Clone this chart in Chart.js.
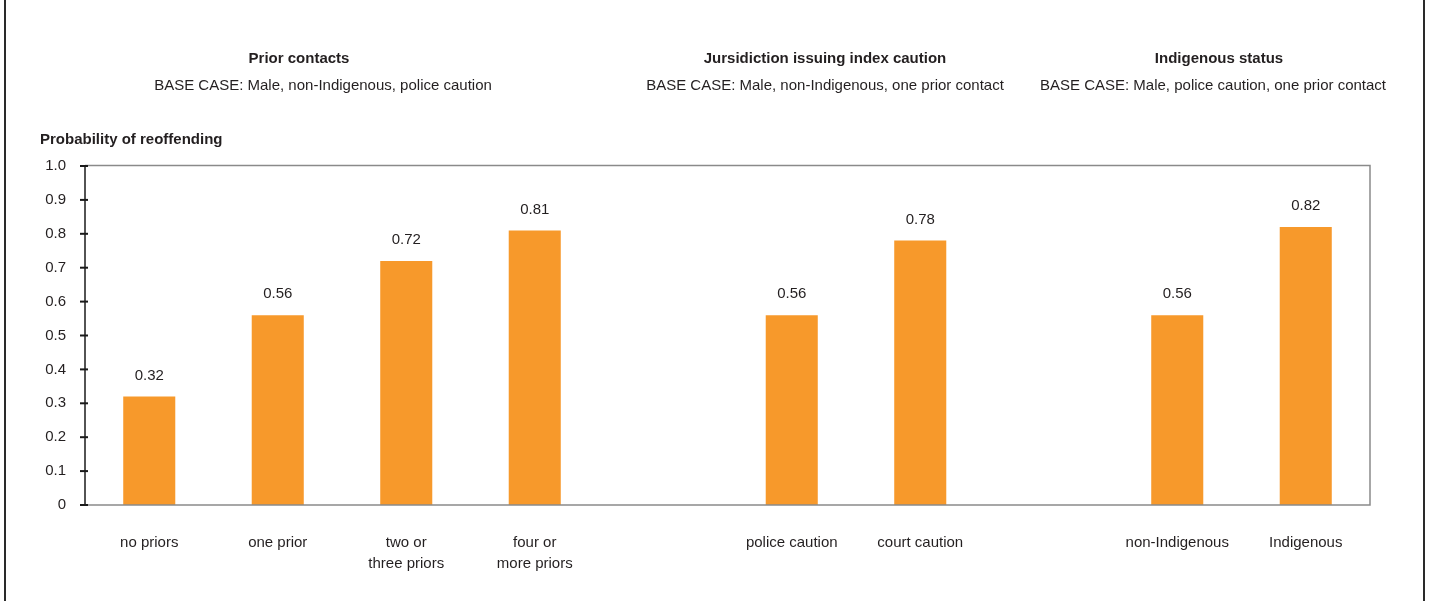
<!DOCTYPE html>
<html>
<head>
<meta charset="utf-8">
<script src="https://cdn.jsdelivr.net/npm/chart.js@4/dist/chart.umd.min.js"></script>
<style>
  html, body { margin: 0; padding: 0; background: #fff; }
  #wrap { position: relative; width: 1429px; height: 601px; font-family: "Liberation Sans", Arial, sans-serif; color: #231f20; }
  .t { position: absolute; font-size: 15px; white-space: nowrap; transform: translate(-50%, -50%); }
  .b { font-weight: bold; }
  #edgeL, #edgeR { position: absolute; top: 0; width: 2px; height: 601px; background: #2a2a2a; }
</style>
</head>
<body>
<div id="wrap">
  <canvas id="myChart" width="1429" height="601"></canvas>
  <div id="edgeL" style="left:4px"></div>
  <div id="edgeR" style="left:1423px"></div>
  <div class="t b" style="left:299px; top:57px">Prior contacts</div>
  <div class="t" style="left:323px; top:84px">BASE CASE: Male, non-Indigenous, police caution</div>
  <div class="t b" style="left:825px; top:57px">Jursidiction issuing index caution</div>
  <div class="t" style="left:825px; top:84px">BASE CASE: Male, non-Indigenous, one prior contact</div>
  <div class="t b" style="left:1219px; top:57px">Indigenous status</div>
  <div class="t" style="left:1213px; top:84px">BASE CASE: Male, police caution, one prior contact</div>
  <div class="t b" style="left:40px; top:138px; transform: translate(0, -50%)">Probability of reoffending</div>
</div>
<script>
const categories = ["no priors", "one prior", ["two or", "three priors"], ["four or", "more priors"], "",
  "police caution", "court caution", "", "non-Indigenous", "Indigenous"];
const probability = [0.32, 0.56, 0.72, 0.81, null, 0.56, 0.78, null, 0.56, 0.82];
const y_ticks = [0, 0.1, 0.2, 0.3, 0.4, 0.5, 0.6, 0.7, 0.8, 0.9, 1.0];

const text_color = "#231f20";
const bar_color = "#f7992b";

const frame_plugin = {
  id: "frame",
  afterDraw: (chart) => {
    const c = chart.ctx;
    const a = chart.chartArea;
    const y = chart.scales.y;
    c.save();
    c.strokeStyle = "#8a8a8a";
    c.lineWidth = 1.5;
    c.beginPath();
    c.moveTo(a.left, a.top - 0.5);
    c.lineTo(a.right, a.top - 0.5);
    c.lineTo(a.right, a.bottom);
    c.lineTo(a.left, a.bottom);
    c.stroke();
    c.strokeStyle = "#1a1a1a";
    c.beginPath();
    c.moveTo(a.left, a.top - 0.5);
    c.lineTo(a.left, a.bottom);
    c.stroke();
    c.lineWidth = 2;
    for (let i = 0; i < y_ticks.length; i++) {
      const py = y.getPixelForValue(y_ticks[i]);
      c.beginPath();
      c.moveTo(a.left - 5, py);
      c.lineTo(a.left + 3, py);
      c.stroke();
    }
    c.restore();
  },
  afterDatasetsDraw: (chart) => {
    const c = chart.ctx;
    const meta = chart.getDatasetMeta(0);
    c.save();
    c.fillStyle = text_color;
    c.font = "15px 'Liberation Sans', Arial, sans-serif";
    c.textAlign = "center";
    c.textBaseline = "middle";
    meta.data.forEach((bar, i) => {
      if (probability[i] == null) return;
      c.fillText(probability[i].toFixed(2), bar.x, bar.y - 21);
    });
    c.restore();
  }
};

new Chart("myChart", {
  type: "bar",
  data: {
    labels: categories,
    datasets: [{
      data: probability,
      backgroundColor: bar_color,
      barPercentage: 0.81,
      categoryPercentage: 0.5
    }]
  },
  options: {
    responsive: false,
    animation: false,
    events: [],
    layout: { padding: { left: 0, right: 59, top: 166, bottom: 0 } },
    plugins: { legend: { display: false }, tooltip: { enabled: false } },
    scales: {
      x: {
        grid: { display: false, drawTicks: false },
        border: { display: false },
        ticks: {
          color: text_color,
          font: { family: "'Liberation Sans', Arial, sans-serif", size: 15, lineHeight: 1.4 },
          padding: 27,
          maxRotation: 0,
          autoSkip: false
        },
        afterFit: (s) => { s.height = 96; }
      },
      y: {
        min: 0,
        max: 1,
        grid: { display: false, drawTicks: false },
        border: { display: false },
        ticks: {
          stepSize: 0.1,
          color: text_color,
          font: { family: "'Liberation Sans', Arial, sans-serif", size: 15 },
          padding: 19,
          callback: (v) => v === 0 ? "0" : v.toFixed(1)
        },
        afterFit: (s) => { s.width = 85; }
      }
    }
  },
  plugins: [frame_plugin]
});
</script>
</body>
</html>
